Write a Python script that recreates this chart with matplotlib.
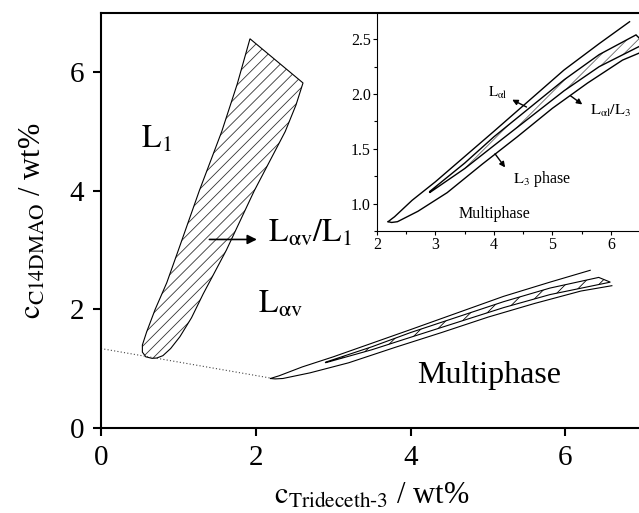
import matplotlib
matplotlib.use("Agg")
import matplotlib.pyplot as plt
from matplotlib.ticker import MultipleLocator

plt.rcParams.update({
    "font.family": "Liberation Serif",
    "mathtext.fontset": "stix",
    "hatch.linewidth": 0.6,
})

# L_av / L1 two-phase region (closed polygon, counter-clockwise from top vertex)
region_x = [1.925, 1.76, 1.56, 1.27, 1.00, 0.85, 0.70, 0.59, 0.535, 0.535, 0.58, 0.66, 0.72,
            0.80, 0.90, 1.02, 1.17, 1.32, 1.45, 1.62, 1.98, 2.38, 2.52, 2.61]
region_y = [6.565, 5.80, 5.00, 4.00, 3.00, 2.45, 2.00, 1.62, 1.40, 1.28, 1.20, 1.175, 1.18,
            1.22, 1.34, 1.54, 1.86, 2.26, 2.58, 3.00, 4.00, 5.00, 5.45, 5.82]

# dotted boundary towards the multiphase lens
dot_x = [0.0, 2.20]
dot_y = [1.34, 0.84]

# outer lamellar lens boundary
outer_upper_x = [2.19, 2.25, 2.30, 2.60, 3.00, 3.50, 4.00, 4.60, 5.20, 5.80, 6.32]
outer_upper_y = [0.835, 0.86, 0.88, 1.03, 1.20, 1.43, 1.66, 1.94, 2.22, 2.46, 2.66]
outer_lower_x = [2.19, 2.25, 2.35, 2.70, 3.20, 3.80, 4.40, 5.00, 5.60, 6.20, 6.60]
outer_lower_y = [0.835, 0.828, 0.835, 0.93, 1.10, 1.36, 1.61, 1.87, 2.10, 2.31, 2.40]

# L_al / L3 coexistence wedge
inner_upper_x = [2.90, 3.50, 4.00, 4.60, 5.20, 5.80, 6.43]
inner_upper_y = [1.11, 1.37, 1.61, 1.87, 2.13, 2.36, 2.54]
inner_lower_x = [2.90, 3.50, 4.00, 4.60, 5.20, 5.80, 6.58]
inner_lower_y = [1.10, 1.32, 1.53, 1.78, 2.03, 2.25, 2.46]

main_ticks = [0, 2, 4, 6]
inset_xticks = [2, 3, 4, 5, 6]
inset_yticks = [1.0, 1.5, 2.0, 2.5]


def draw_lens(ax, hatch, hatch_color, lw):
    wx = inner_upper_x + inner_lower_x[::-1]
    wy = inner_upper_y + inner_lower_y[::-1]
    ax.fill(wx, wy, facecolor="none", edgecolor=hatch_color, hatch=hatch, linewidth=0)
    ax.fill(wx, wy, facecolor="none", edgecolor="black", linewidth=lw)
    ax.plot(outer_upper_x, outer_upper_y, color="black", lw=lw)
    ax.plot(outer_lower_x, outer_lower_y, color="black", lw=lw)


fig = plt.figure(figsize=(6.39, 5.13), dpi=100)
ax = fig.add_axes([0.158, 0.1657, 0.848, 0.809])

ax.fill(region_x, region_y, facecolor="none", edgecolor="#333333", hatch="///", linewidth=0)
ax.fill(region_x, region_y, facecolor="none", edgecolor="black", linewidth=0.8)
ax.plot(dot_x, dot_y, color="#444444", lw=0.8, linestyle=(0, (1, 2)))
draw_lens(ax, "//", "black", 0.8)

ax.annotate("", xy=(2.05, 3.18), xytext=(1.365, 3.18),
            arrowprops=dict(arrowstyle="-|>", color="black", lw=1.2, mutation_scale=14))
ax.text(2.16, 3.14, r"$\mathrm{L_{\alpha v}/L_1}$", fontsize=23, va="baseline")
ax.text(0.52, 4.73, r"$\mathrm{L_1}$", fontsize=23, va="baseline")
ax.text(2.03, 1.94, r"$\mathrm{L_{\alpha v}}$", fontsize=23, va="baseline")
ax.text(4.08, 0.755, "Multiphase", fontsize=23, va="baseline")

ax.set_xlim(0, 7)
ax.set_ylim(0, 7)
ax.set_xticks(main_ticks)
ax.set_yticks(main_ticks)
ax.tick_params(direction="out", length=6, width=1.5, labelsize=21, pad=6)
for side in ("left", "bottom", "top"):
    ax.spines[side].set_linewidth(1.5)
ax.spines["right"].set_visible(False)
ax.set_xlabel(r"$\mathrm{c_{Trideceth\text{-}3}}$ / wt%", fontsize=22, labelpad=8)
ax.set_ylabel(r"$\mathrm{c_{C14DMAO}}$ / wt%", fontsize=22, labelpad=16)

# zoomed view of the lamellar lens
ins = fig.add_axes([0.59, 0.5497, 0.4117, 0.425])
ins.set_facecolor("white")
draw_lens(ins, "///", "#666666", 1.0)

ins.annotate("", xy=(4.27, 1.96), xytext=(4.60, 1.87),
             arrowprops=dict(arrowstyle="-|>", color="black", lw=1, mutation_scale=8))
ins.annotate("", xy=(5.55, 1.89), xytext=(5.27, 2.00),
             arrowprops=dict(arrowstyle="-|>", color="black", lw=1, mutation_scale=8))
ins.annotate("", xy=(4.22, 1.31), xytext=(3.99, 1.475),
             arrowprops=dict(arrowstyle="-|>", color="black", lw=1, mutation_scale=8))
ins.text(3.90, 1.97, r"$\mathrm{L_{\alpha l}}$", fontsize=10.5, va="baseline")
ins.text(5.65, 1.81, r"$\mathrm{L_{\alpha l}/L_3}$", fontsize=11.5, va="baseline")
ins.text(4.33, 1.19, r"$\mathrm{L_3}$ phase", fontsize=11.5, va="baseline")
ins.text(3.39, 0.87, "Multiphase", fontsize=11.5, va="baseline")

ins.set_xlim(2, 6.5)
ins.set_ylim(0.75, 2.74)
ins.set_xticks(inset_xticks)
ins.set_yticks(inset_yticks)
ins.yaxis.set_major_formatter(plt.FormatStrFormatter("%.1f"))
ins.xaxis.set_minor_locator(MultipleLocator(0.5))
ins.yaxis.set_minor_locator(MultipleLocator(0.25))
ins.tick_params(which="major", direction="out", length=3, width=0.8, labelsize=11.5, pad=1.5)
ins.tick_params(which="minor", direction="out", length=2, width=0.8)
for sp in ins.spines.values():
    sp.set_linewidth(0.8)

fig.savefig("out.png", dpi=100)
